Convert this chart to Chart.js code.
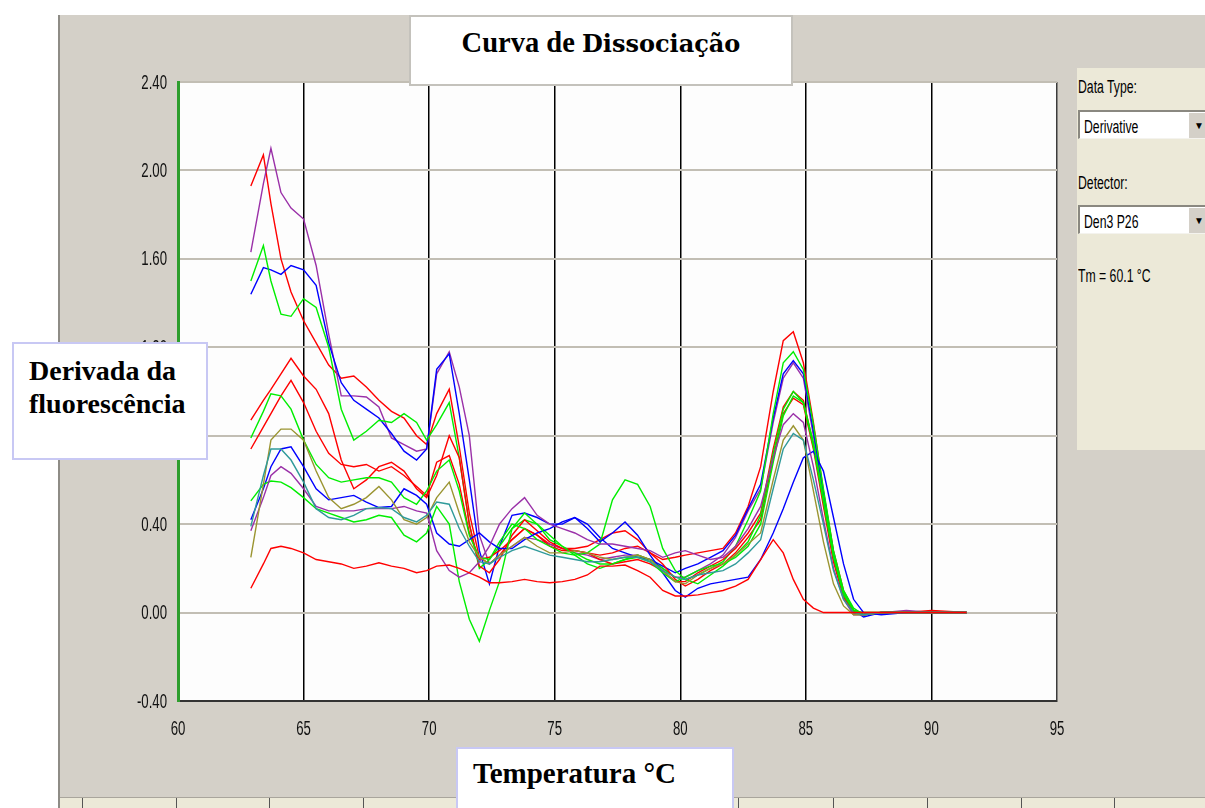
<!DOCTYPE html>
<html>
<head>
<meta charset="utf-8">
<title>Curva de Dissociação</title>
<script src="https://cdn.jsdelivr.net/npm/chart.js@4.4.1/dist/chart.umd.min.js"></script>
<style>
  html, body { margin: 0; padding: 0; background: #fff; }
  body { width: 1205px; height: 808px; overflow: hidden; position: relative; }
  #wrap { position: absolute; left: 0; top: 0; width: 1205px; height: 808px; }
  .box { position: absolute; background: #fff; box-sizing: border-box; font-family: "Liberation Serif", "Times New Roman", serif; font-weight: bold; color: #000; }
  #title { left: 409px; top: 15px; width: 384px; height: 71px; border: 2px solid #c4c2bc; text-align: center; }
  #title .t { position: absolute; left: 0; right: 0; top: 11px; line-height: 30px; font-size: 28.5px; }
  #title .d { font-family: "DejaVu Serif", serif; font-size: 24px; }
  #ylab { left: 12px; top: 342px; width: 196px; height: 118px; border: 2px solid #c8c8f4; font-size: 28px; line-height: 33px; padding: 10px 0 0 15px; }
  #xlab { left: 456px; top: 747px; width: 278px; height: 70px; border: 2px solid #c8c8f4; font-size: 29px; line-height: 32px; padding: 8px 0 0 15px; }
  #side { position: absolute; left: 1077px; top: 68px; width: 128px; height: 382px; background: #ece9d8;
          font-family: "Liberation Sans", Arial, sans-serif; font-size: 18px; line-height: 22px; color: #000; }
  #side .lbl { position: absolute; left: 1px; transform: scaleX(0.68); transform-origin: 0 0; white-space: nowrap; }
  #side .combo { position: absolute; left: 1px; width: 140px; height: 29px; background: #fff; box-sizing: border-box;
                 border-top: 2px solid #8a8880; border-left: 2px solid #8a8880; border-bottom: 1px solid #f4f3ee; }
  #side .combo span { position: absolute; left: 4px; top: 4px; transform: scaleX(0.68); transform-origin: 0 0; white-space: nowrap; }
  #side .combo b { position: absolute; left: 109px; top: 1px; width: 30px; height: 25px; background: #d4d0c8;
                   font-size: 10px; line-height: 25px; padding-left: 5px; box-sizing: border-box; }
</style>
</head>
<body>
<div id="wrap"><canvas id="chart"></canvas></div>

<div class="box" id="title"><div class="t">Curva de <span class="d">Dissociação</span></div></div>
<div class="box" id="ylab">Derivada da<br>fluorescência</div>
<div class="box" id="xlab">Temperatura °C</div>

<div id="side">
  <div class="lbl" style="top:8px">Data Type:</div>
  <div class="combo" style="top:42px"><span>Derivative</span><b>▼</b></div>
  <div class="lbl" style="top:104px">Detector:</div>
  <div class="combo" style="top:137px"><span>Den3 P26</span><b>▼</b></div>
  <div class="lbl" style="top:197px">Tm = 60.1 °C</div>
</div>

<script>
// temperature readings shared by every well (°C)
const temps = [62.9, 63.4, 63.7, 64.1, 64.5, 65.0, 65.5, 66.0, 66.5, 67.0, 67.5, 68.0, 68.5, 69.0, 69.5, 69.9,
               70.3, 70.8, 71.2, 71.6, 72.0, 72.4, 72.8,
               73.3, 73.8, 74.3, 74.8, 75.3, 75.8, 76.3, 76.8, 77.3, 77.8, 78.3, 78.8, 79.3, 79.8, 80.2, 80.7, 81.2, 81.7, 82.2, 82.7,
               83.2, 83.7, 84.1, 84.5, 84.9, 85.3, 85.7, 86.1, 86.5, 86.9, 87.3, 88.0, 89.0, 90.0, 91.4];

// -dF/dT for each well
const red1 = [1.93, 2.07, 1.85, 1.60, 1.45, 1.32, 1.22, 1.12, 1.06, 1.07, 1.02, 0.96, 0.91, 0.88, 0.80, 0.76,
              0.90, 1.01, 0.75, 0.45, 0.25, 0.22, 0.26,
              0.33, 0.38, 0.35, 0.31, 0.29, 0.29, 0.30, 0.33, 0.36, 0.37, 0.33, 0.27, 0.24, 0.25, 0.26, 0.27, 0.28, 0.29, 0.36, 0.48,
              0.66, 1.00, 1.23, 1.27, 1.13, 0.86, 0.55, 0.28, 0.10, 0.01, -0.01, 0.00, 0.00, 0.01, 0.00];
const red2 = [0.87, 0.96, 1.01, 1.08, 1.15, 1.07, 1.01, 0.90, 0.69, 0.56, 0.60, 0.66, 0.68, 0.64, 0.56, 0.52,
              0.62, 0.80, 0.70, 0.40, 0.21, 0.18, 0.24,
              0.35, 0.42, 0.37, 0.32, 0.29, 0.28, 0.27, 0.24, 0.22, 0.23, 0.24, 0.22, 0.19, 0.14, 0.14, 0.18, 0.21, 0.24, 0.29, 0.36,
              0.45, 0.74, 0.93, 1.00, 0.96, 0.76, 0.50, 0.24, 0.08, 0.00, -0.01, 0.00, 0.00, 0.00, 0.00];
const red3 = [0.74, 0.84, 0.90, 0.98, 1.05, 0.95, 0.82, 0.72, 0.67, 0.66, 0.67, 0.64, 0.66, 0.62, 0.57, 0.53,
              0.68, 0.71, 0.58, 0.36, 0.24, 0.25, 0.28,
              0.33, 0.38, 0.35, 0.30, 0.28, 0.28, 0.27, 0.26, 0.27, 0.29, 0.30, 0.27, 0.22, 0.15, 0.12, 0.15, 0.19, 0.22, 0.27, 0.34,
              0.42, 0.70, 0.90, 0.97, 0.94, 0.74, 0.48, 0.23, 0.07, 0.00, 0.00, 0.00, 0.00, 0.00, 0.00];
const red4 = [0.11, 0.22, 0.29, 0.30, 0.29, 0.27, 0.24, 0.23, 0.22, 0.20, 0.21, 0.225, 0.21, 0.20, 0.18, 0.19,
              0.21, 0.215, 0.20, 0.18, 0.16, 0.135, 0.135,
              0.14, 0.15, 0.14, 0.135, 0.14, 0.15, 0.17, 0.21, 0.21, 0.215, 0.19, 0.16, 0.10, 0.075, 0.075, 0.08, 0.09, 0.10, 0.12, 0.15,
              0.24, 0.33, 0.27, 0.15, 0.06, 0.02, 0.00, 0.00, 0.00, 0.00, 0.00, 0.00, 0.00, 0.00, 0.00];
const green1 = [1.50, 1.66, 1.50, 1.35, 1.34, 1.42, 1.38, 1.20, 0.92, 0.78, 0.82, 0.87, 0.86, 0.90, 0.86, 0.78,
                0.85, 0.95, 0.70, 0.40, 0.20, 0.24, 0.30,
                0.38, 0.42, 0.40, 0.35, 0.30, 0.27, 0.24, 0.22, 0.22, 0.24, 0.26, 0.24, 0.20, 0.16, 0.15, 0.17, 0.20, 0.23, 0.30, 0.42,
                0.55, 0.90, 1.13, 1.18, 1.10, 0.85, 0.56, 0.28, 0.10, 0.02, -0.01, 0.00, 0.00, 0.00, 0.00];
const green2 = [0.79, 0.91, 0.99, 0.98, 0.92, 0.78, 0.67, 0.61, 0.59, 0.60, 0.61, 0.61, 0.59, 0.52, 0.49, 0.55,
                0.64, 0.69, 0.55, 0.35, 0.25, 0.24, 0.32,
                0.40, 0.38, 0.33, 0.30, 0.27, 0.26, 0.27, 0.31, 0.51, 0.60, 0.58, 0.48, 0.29, 0.19, 0.15, 0.13, 0.17, 0.21, 0.26, 0.32,
                0.44, 0.72, 0.92, 1.00, 0.95, 0.75, 0.50, 0.25, 0.08, 0.01, 0.00, 0.00, 0.00, 0.00, 0.00];
const green3 = [0.505, 0.58, 0.595, 0.59, 0.565, 0.52, 0.47, 0.45, 0.43, 0.41, 0.42, 0.44, 0.43, 0.35, 0.32, 0.36,
                0.48, 0.40, 0.14, -0.03, -0.13, 0.01, 0.14,
                0.38, 0.45, 0.40, 0.33, 0.30, 0.26, 0.22, 0.20, 0.22, 0.24, 0.25, 0.23, 0.18, 0.14, 0.16, 0.19, 0.21, 0.22, 0.25, 0.30,
                0.40, 0.68, 0.89, 0.98, 0.95, 0.77, 0.52, 0.26, 0.09, 0.01, -0.01, 0.00, 0.00, 0.00, 0.00];
const blue1 = [1.44, 1.56, 1.55, 1.53, 1.57, 1.55, 1.48, 1.22, 1.04, 0.96, 0.92, 0.88, 0.81, 0.73, 0.69, 0.74,
               1.10, 1.17, 0.90, 0.60, 0.28, 0.13, 0.30,
               0.44, 0.45, 0.43, 0.40, 0.40, 0.43, 0.40, 0.34, 0.29, 0.27, 0.25, 0.24, 0.21, 0.18, 0.20, 0.22, 0.25, 0.28, 0.35, 0.47,
               0.58, 0.88, 1.08, 1.14, 1.08, 0.82, 0.54, 0.27, 0.09, 0.01, -0.02, 0.00, 0.00, 0.00, 0.00];
const blue2 = [0.42, 0.56, 0.66, 0.74, 0.75, 0.66, 0.56, 0.51, 0.52, 0.53, 0.50, 0.475, 0.48, 0.56, 0.53, 0.49,
               0.36, 0.31, 0.30, 0.33, 0.36, 0.32, 0.29,
               0.29, 0.33, 0.36, 0.38, 0.41, 0.43, 0.38, 0.32, 0.36, 0.41, 0.35, 0.26, 0.18, 0.10, 0.07, 0.11, 0.13, 0.14, 0.15, 0.16,
               0.24, 0.36, 0.47, 0.59, 0.70, 0.73, 0.64, 0.43, 0.22, 0.06, 0.00, -0.01, 0.00, 0.00, 0.00];
const purple1 = [1.63, 1.94, 2.10, 1.90, 1.83, 1.78, 1.57, 1.26, 0.98, 0.98, 0.975, 0.93, 0.79, 0.76, 0.73, 0.74,
                 1.08, 1.18, 1.02, 0.80, 0.35, 0.22, 0.26,
                 0.30, 0.34, 0.33, 0.31, 0.29, 0.27, 0.26, 0.24, 0.25, 0.26, 0.26, 0.24, 0.20, 0.16, 0.16, 0.19, 0.22, 0.26, 0.34, 0.46,
                 0.56, 0.86, 1.06, 1.13, 1.06, 0.80, 0.52, 0.25, 0.08, 0.00, -0.01, 0.00, 0.01, 0.00, 0.00];
const purple2 = [0.37, 0.52, 0.62, 0.66, 0.63, 0.56, 0.48, 0.46, 0.46, 0.46, 0.47, 0.47, 0.47, 0.48, 0.46, 0.45,
                 0.28, 0.19, 0.16, 0.18, 0.23, 0.30, 0.40,
                 0.47, 0.52, 0.44, 0.40, 0.38, 0.36, 0.33, 0.31, 0.31, 0.30, 0.29, 0.28, 0.25, 0.27, 0.28, 0.26, 0.24, 0.25, 0.30, 0.38,
                 0.48, 0.70, 0.85, 0.90, 0.86, 0.66, 0.42, 0.20, 0.06, -0.01, -0.01, 0.00, 0.00, 0.00, 0.00];
const olive1 = [0.25, 0.58, 0.78, 0.83, 0.83, 0.78, 0.64, 0.52, 0.47, 0.49, 0.52, 0.57, 0.51, 0.42, 0.40, 0.43,
                0.52, 0.59, 0.45, 0.32, 0.25, 0.22, 0.26,
                0.30, 0.34, 0.30, 0.27, 0.27, 0.28, 0.27, 0.25, 0.24, 0.25, 0.26, 0.24, 0.19, 0.14, 0.13, 0.17, 0.20, 0.22, 0.26, 0.31,
                0.36, 0.60, 0.78, 0.845, 0.78, 0.55, 0.32, 0.13, 0.03, -0.01, -0.01, 0.00, 0.00, 0.00, 0.00];
const teal1 = [0.39, 0.62, 0.74, 0.74, 0.69, 0.59, 0.47, 0.43, 0.42, 0.44, 0.47, 0.475, 0.47, 0.43, 0.41, 0.44,
               0.50, 0.49, 0.38, 0.30, 0.23, 0.22, 0.25,
               0.28, 0.30, 0.28, 0.26, 0.25, 0.24, 0.23, 0.23, 0.24, 0.25, 0.25, 0.23, 0.19, 0.16, 0.15, 0.17, 0.18, 0.19, 0.22, 0.27,
               0.33, 0.56, 0.74, 0.81, 0.78, 0.60, 0.40, 0.19, 0.06, 0.00, -0.01, 0.00, 0.00, 0.00, 0.00];

const xTicks = [60, 65, 70, 75, 80, 85, 90, 95];
const yTicks = [-0.4, 0, 0.4, 0.8, 1.2, 1.6, 2.0, 2.4];

const wells = [
  [red4, '#ff0000'], [teal1, '#2f9a9a'], [olive1, '#9a9430'], [purple2, '#9a30a8'],
  [green3, '#00ee00'], [blue2, '#0000ff'], [green2, '#00ee00'], [red3, '#ff0000'],
  [red2, '#ff0000'], [green1, '#00ee00'], [blue1, '#0000ff'], [purple1, '#9a30a8'], [red1, '#ff0000']
];

// window frame behind the plot: grey panel, white plot area, tab strip at the bottom
const frame = {
  id: 'frame',
  beforeDraw(chart) {
    const { ctx, chartArea: a } = chart;
    ctx.save();
    ctx.fillStyle = '#ffffff';
    ctx.fillRect(0, 0, chart.width, chart.height);
    ctx.fillStyle = '#d4d0c8';
    ctx.fillRect(59, 15, chart.width - 59, chart.height - 15);
    ctx.fillStyle = '#8e8c86';
    ctx.fillRect(58, 15, 2, chart.height - 15);
    ctx.fillStyle = '#fdfdfd';
    ctx.fillRect(a.left, a.top, a.right - a.left, a.bottom - a.top);
    // tab strip
    ctx.fillStyle = '#ece9d8';
    ctx.fillRect(60, 798, chart.width - 60, 10);
    ctx.fillStyle = '#a9a59c';
    ctx.fillRect(60, 797, chart.width - 60, 1);
    ctx.fillStyle = '#555';
    [82, 176, 269, 363, 457, 551, 645, 738, 833, 927, 1021, 1114].forEach(x => ctx.fillRect(x, 798, 1, 10));
    ctx.restore();
  }
};

// tall, condensed tick numbers like the instrument software
function narrowText(ctx, text, px, py, align) {
  ctx.save();
  ctx.translate(px, py);
  ctx.scale(0.66, 1);
  ctx.textAlign = align;
  ctx.fillText(text, 0, 0);
  ctx.restore();
}
const tickText = {
  id: 'tickText',
  afterDraw(chart) {
    const { ctx, scales: { x, y } } = chart;
    ctx.save();
    ctx.font = '20px "Liberation Sans", Arial, sans-serif';
    ctx.fillStyle = '#111111';
    ctx.textBaseline = 'middle';
    yTicks.forEach(v => narrowText(ctx, v.toFixed(2), x.left - 11, y.getPixelForValue(v) + 1, 'right'));
    xTicks.forEach(v => narrowText(ctx, String(v), x.getPixelForValue(v), y.bottom + 28, 'center'));
    ctx.restore();
  }
};

new Chart(document.getElementById('chart'), {
  type: 'line',
  data: {
    datasets: wells.map(([vals, color]) => ({
      data: temps.map((t, i) => ({ x: t, y: vals[i] })),
      borderColor: color,
      borderWidth: 1.4,
      pointRadius: 0,
      tension: 0,
      fill: false
    }))
  },
  options: {
    responsive: true,
    maintainAspectRatio: false,
    animation: false,
    events: [],
    layout: { padding: { left: 118, right: 148, top: 82, bottom: 67 } },
    plugins: { legend: { display: false }, tooltip: { enabled: false } },
    scales: {
      x: {
        type: 'linear',
        min: 60, max: 95,
        afterFit: s => { s.height = 40; },
        afterBuildTicks: s => { s.ticks = xTicks.map(v => ({ value: v })); },
        ticks: { display: false },
        grid: {
          drawTicks: false,
          color: c => c.index === 0 ? 'rgba(0,0,0,0)' : (c.index === xTicks.length - 1 ? '#3c3c3c' : '#000000'),
          lineWidth: 1.5
        },
        border: { color: '#333333', width: 2 }
      },
      y: {
        min: -0.4, max: 2.4,
        afterFit: s => { s.width = 60; },
        afterBuildTicks: s => { s.ticks = yTicks.map(v => ({ value: v })); },
        ticks: { display: false },
        grid: {
          drawTicks: false,
          color: c => c.index === 0 ? 'rgba(0,0,0,0)' : '#c2beb4',
          lineWidth: 2
        },
        border: { color: '#2e9e2e', width: 3 }
      }
    }
  },
  plugins: [frame, tickText]
});
</script>
</body>
</html>
